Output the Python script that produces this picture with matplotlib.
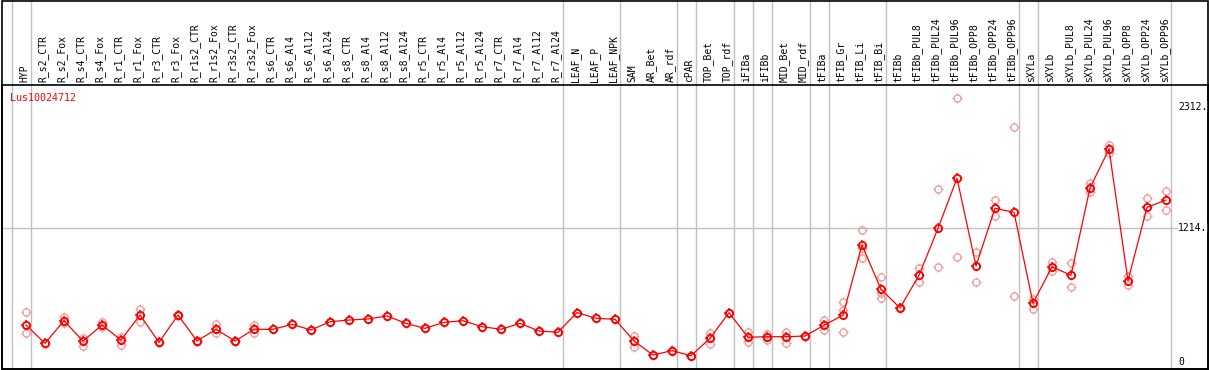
import matplotlib
matplotlib.use("Agg")
import matplotlib.pyplot as plt
from matplotlib.path import Path
from matplotlib.transforms import blended_transform_factory
from matplotlib.patches import Rectangle
import numpy as np

categories = ["HYP", "R_s2_CTR", "R_s2_Fox", "R_s4_CTR", "R_s4_Fox", "R_r1_CTR", "R_r1_Fox",
              "R_r3_CTR", "R_r3_Fox", "R_r1s2_CTR", "R_r1s2_Fox", "R_r3s2_CTR", "R_r3s2_Fox",
              "R_s6_CTR", "R_s6_Al4", "R_s6_Al12", "R_s6_Al24", "R_s8_CTR", "R_s8_Al4",
              "R_s8_Al12", "R_s8_Al24", "R_r5_CTR", "R_r5_Al4", "R_r5_Al12", "R_r5_Al24",
              "R_r7_CTR", "R_r7_Al4", "R_r7_Al12", "R_r7_Al24", "LEAF_N", "LEAF_P", "LEAF_NPK",
              "SAM", "AR_Bet", "AR_rdf", "cPAR", "TOP_Bet", "TOP_rdf", "iFIBa", "iFIBb",
              "MID_Bet", "MID_rdf", "tFIBa", "tFIB_Gr", "tFIB_Li", "tFIB_Bi", "tFIBb",
              "tFIBb_PUL8", "tFIBb_PUL24", "tFIBb_PUL96", "tFIBb_OPP8", "tFIBb_OPP24",
              "tFIBb_OPP96", "sXYLa", "sXYLb", "sXYLb_PUL8", "sXYLb_PUL24", "sXYLb_PUL96",
              "sXYLb_OPP8", "sXYLb_OPP24", "sXYLb_OPP96"]

mean_values = [335, 169, 374, 190, 335, 199, 426, 178, 426, 190, 296, 190, 296,
               296, 341, 290, 365, 380, 390, 417, 350, 305, 359, 374, 320,
               296, 350, 281, 269, 448, 396, 387,
               190, 63, 103, 57, 214, 447, 224, 229, 229, 235,
               333, 424, 1060, 658, 490, 785, 1211, 1664, 870, 1392, 1356,
               532, 863, 785, 1576, 1929, 737, 1401, 1467]

rep_a = [456, 175, 410, 220, 365, 229, 480, 178, 430, 190, 341, 190, 335,
         296, 341, 290, 365, 380, 390, 417, 350, 305, 359, 374, 320,
         296, 350, 281, 269, 448, 396, 387,
         235, 63, 110, 57, 266, 447, 275, 251, 275, 240,
         380, 543, 1196, 767, 495, 848, 1564, 2388, 999, 1467, 2126,
         571, 909, 894, 1624, 1962, 779, 1482, 1552]
rep_b = [260, 163, 350, 145, 314, 154, 365, 172, 420, 185, 260, 185, 260,
         296, 341, 290, 365, 380, 390, 417, 350, 305, 359, 374, 320,
         296, 350, 281, 269, 448, 396, 387,
         139, 63, 96, 57, 163, 447, 184, 199, 169, 230,
         290, 471, 1030, 577, 485, 728, 857, 948, 722, 1322, 598,
         477, 824, 676, 1540, 1896, 697, 1325, 1377]
rep_c = [335, 169, 374, 190, 335, 199, 426, 178, 426, 190, 296, 190, 296,
         296, 341, 290, 365, 380, 390, 417, 350, 305, 359, 374, 320,
         296, 350, 281, 269, 448, 396, 387,
         190, 63, 103, 57, 214, 447, 224, 229, 229, 235,
         333, 269, 939, 622, 490, 785, 1211, 1664, 870, 1392, 1356,
         532, 863, 785, 1576, 1929, 737, 1401, 1467]

gene_label = "Lus10024712"
separator_after = [-1, 0, 28, 31, 34, 35, 37, 38, 39, 41, 42, 45, 52, 53, 60]
axis_ticks = [2312, 1214, 0]
axis_tick_labels = ["2312.", "1214.", "0"]

W, H = 1209, 370
fig = plt.figure(figsize=(W / 100, H / 100), dpi=100)

def fx(px):
    return px / W

def fy(py):
    return (H - py) / H

left_px, right_px, top_px, bot_px = 1.5, 1207.5, 85, 369
ax = fig.add_axes([fx(left_px), fy(bot_px), fx(right_px - left_px), (bot_px - top_px) / H])
x0, dx = 26, 19
ax.set_xlim((left_px - x0) / dx, (right_px - x0) / dx)
y0, k = 362, 0.1104
ax.set_ylim((y0 - bot_px) / k, (y0 - top_px) / k)
ax.set_xticks([])
ax.set_yticks([])
for s in ax.spines.values():
    s.set_linewidth(1.2)
    s.set_color("black")

# stub marker (four short ticks outside the circle)
stub_verts = [(0, 0.65), (0, 1), (0, -0.65), (0, -1), (0.65, 0), (1, 0), (-0.65, 0), (-1, 0)]
stub_codes = [Path.MOVETO, Path.LINETO] * 4
stub_path = Path(stub_verts, stub_codes)

xs = np.arange(len(categories))
for rep in (rep_a, rep_b, rep_c):
    ax.plot(xs, rep, linestyle="none", marker="o", markersize=5.2,
            markerfacecolor="none", markeredgecolor="#ee9a9a", markeredgewidth=0.9, zorder=2)
    ax.plot(xs, rep, linestyle="none", marker=stub_path, markersize=7.6,
            markeredgecolor="#ee9a9a", markeredgewidth=0.9, zorder=2)
ax.plot(xs, mean_values, color="#ff0000", linewidth=0.9, zorder=3)
ax.plot(xs, mean_values, linestyle="none", marker="o", markersize=5.2,
        markerfacecolor="none", markeredgecolor="#ff0000", markeredgewidth=1.3, zorder=4)
ax.plot(xs, mean_values, linestyle="none", marker=stub_path, markersize=7.6,
        markeredgecolor="#ff0000", markeredgewidth=1.1, zorder=4)

# horizontal gray reference line
ax.axhline(1214, color="#c0c0c0", linewidth=1.0, zorder=1)

# separators
btr = blended_transform_factory(ax.transData, fig.transFigure)
for s in separator_after:
    xv = s + 0.25
    ax.plot([xv, xv], [fy(bot_px), fy(0)], transform=btr, color="#c0c0c0",
            linewidth=1.0, clip_on=False, zorder=0.5)

# header labels
for i, c in enumerate(categories):
    ax.text(i - 0.1, fy(82), c, transform=btr, rotation=90, ha="center", va="bottom",
            fontsize=7, family="DejaVu Sans Mono", color="black", clip_on=False)

# gene label
ax.text(fx(10), fy(98), gene_label, transform=fig.transFigure, ha="left", va="center",
        fontsize=7.2, family="DejaVu Sans Mono", color="#ff0000")

# right axis labels
for v, t in zip(axis_ticks, axis_tick_labels):
    ax.text((1178 - x0) / dx, v, t, ha="left", va="center", fontsize=7,
            family="DejaVu Sans Mono", color="black", zorder=5,
            bbox=dict(facecolor="white", edgecolor="none", pad=0.3))

# outer frame and header separator
fig.add_artist(Rectangle((fx(left_px), fy(bot_px)), fx(right_px - left_px), (bot_px - 0.5) / H,
                         transform=fig.transFigure, fill=False, edgecolor="black", linewidth=1.2))

fig.savefig("out.png", dpi=100)
